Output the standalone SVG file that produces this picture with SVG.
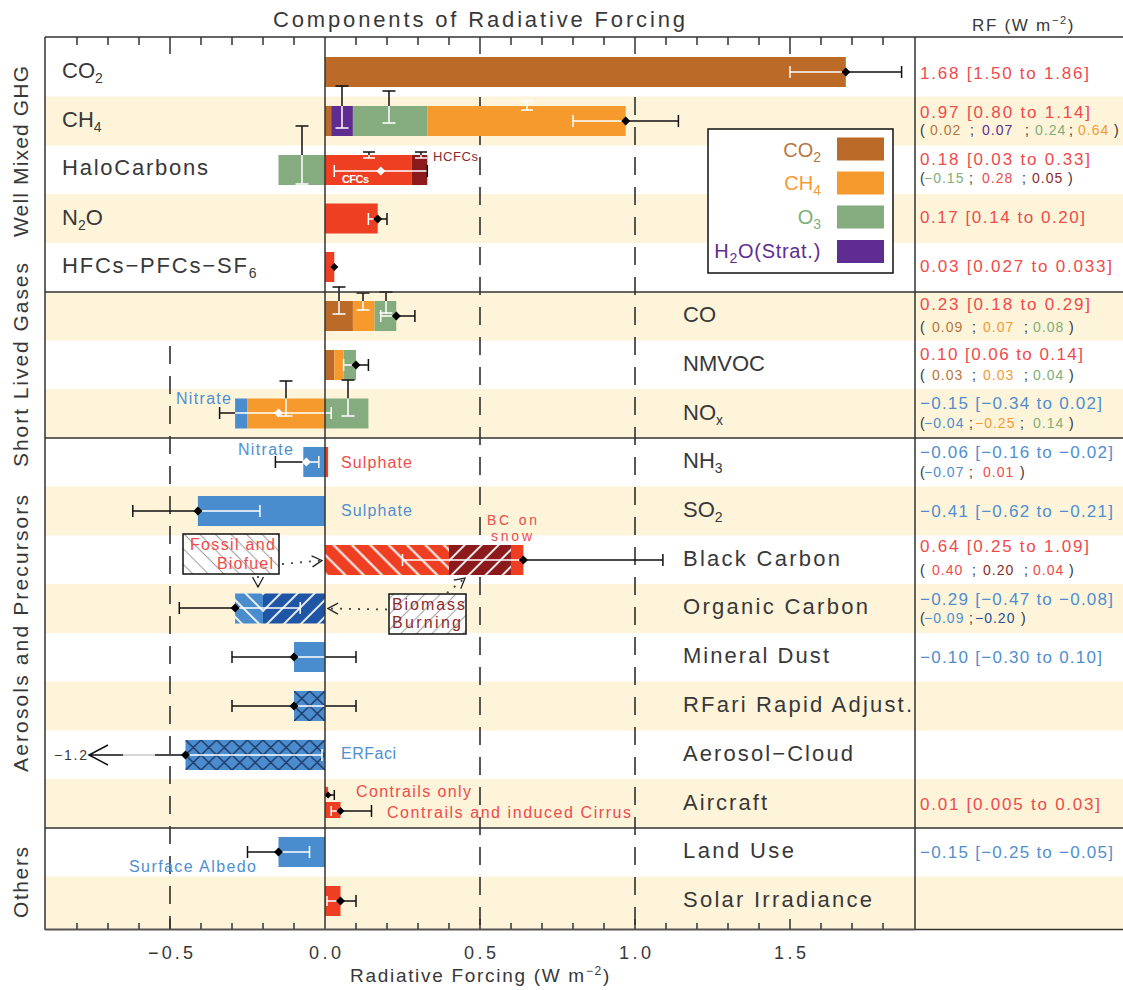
<svg xmlns="http://www.w3.org/2000/svg" width="1123" height="990" viewBox="0 0 1123 990">
<style>
text{font-family:"Liberation Sans",Arial,sans-serif;fill:#383838}
.lab{font-size:22px}
.sec{font-size:21px}
.ttl{font-size:22px}
.ax{font-size:18px}
.val{font-size:17px}
.sv{font-size:14px;letter-spacing:1px}
.sm{font-size:16px}
.rd{fill:#ef4b4b}.bl{fill:#4f8fd0}.br{fill:#b7773e}.or{fill:#f59a33}.gr{fill:#7fae7a}.pu{fill:#5f2d91}.dr{fill:#8c2a2a}.db{fill:#2a4f8f}.dk{fill:#333}
.k{stroke:#111;stroke-width:1.5;fill:none}
.w{stroke:#fff;stroke-width:1.5;fill:none}
.stripe{fill:#fdf4da}
.grid{stroke:#222;stroke-width:1.5;stroke-dasharray:18 12;fill:none}
.axis{stroke:#333;stroke-width:1.5;fill:none}
.dot{stroke:#444;stroke-width:1.8;stroke-dasharray:2 7;fill:none}
.c-br{fill:#bb6a27}.c-or{fill:#f79a2e}.c-gr{fill:#84ac7f}.c-pu{fill:#5f2d91}.c-rd{fill:#ee3f23}.c-dr{fill:#8c191c}.c-bl{fill:#4a8dce}
</style>
<defs>
<pattern id="hBCr" patternUnits="userSpaceOnUse" width="13" height="13" patternTransform="rotate(-45)"><rect width="13" height="13" fill="#ee3f23"/><line x1="6.5" y1="0" x2="6.5" y2="13" stroke="#fff" stroke-width="2"/></pattern>
<pattern id="hBCd" patternUnits="userSpaceOnUse" width="12" height="12" patternTransform="rotate(45)"><rect width="12" height="12" fill="#8c191c"/><line x1="6" y1="0" x2="6" y2="12" stroke="#fff" stroke-width="1.8"/></pattern>
<pattern id="hOCl" patternUnits="userSpaceOnUse" width="12" height="12" patternTransform="rotate(-45)"><rect width="12" height="12" fill="#4a8dce"/><line x1="6" y1="0" x2="6" y2="12" stroke="#fff" stroke-width="1.8"/></pattern>
<pattern id="hOCd" patternUnits="userSpaceOnUse" width="12" height="12" patternTransform="rotate(45)"><rect width="12" height="12" fill="#1f55a5"/><line x1="6" y1="0" x2="6" y2="12" stroke="#fff" stroke-width="1.8"/></pattern>
<pattern id="hBoxA" patternUnits="userSpaceOnUse" width="11" height="11" patternTransform="rotate(-45)"><rect width="11" height="11" fill="#fff"/><line x1="5.5" y1="0" x2="5.5" y2="11" stroke="#aaa" stroke-width="1.2"/></pattern>
<pattern id="hBoxB" patternUnits="userSpaceOnUse" width="11" height="11" patternTransform="rotate(45)"><rect width="11" height="11" fill="#fff"/><line x1="5.5" y1="0" x2="5.5" y2="11" stroke="#aaa" stroke-width="1.2"/></pattern>
<pattern id="xh13" patternUnits="userSpaceOnUse" x="325" y="691" width="15.5" height="15"><rect width="15.5" height="15" fill="#4a8dce"/><path d="M0,0L15.5,15M15.5,0L0,15" stroke="#1f3a68" stroke-width="1.5"/></pattern>
<pattern id="xh14" patternUnits="userSpaceOnUse" x="325" y="740" width="15.5" height="15"><rect width="15.5" height="15" fill="#4a8dce"/><path d="M0,0L15.5,15M15.5,0L0,15" stroke="#1f3a68" stroke-width="1.5"/></pattern>
<marker id="chev" viewBox="-11 -7 12 14" refX="0" refY="0" markerWidth="12" markerHeight="14" orient="auto" markerUnits="userSpaceOnUse"><path d="M-10,-5.5L0,0L-10,5.5" fill="none" stroke="#222" stroke-width="1.3"/></marker>
</defs>
<rect width="1123" height="990" fill="#fff"/>

<g id="stripes">
<rect class="stripe" x="45" y="96.5" width="1078" height="49"/>
<rect class="stripe" x="45" y="194" width="1078" height="49"/>
<rect class="stripe" x="45" y="292" width="1078" height="48.5"/>
<rect class="stripe" x="45" y="389" width="1078" height="49"/>
<rect class="stripe" x="45" y="486.5" width="1078" height="49"/>
<rect class="stripe" x="45" y="584" width="1078" height="49"/>
<rect class="stripe" x="45" y="681.5" width="1078" height="49"/>
<rect class="stripe" x="45" y="779" width="1078" height="49"/>
<rect class="stripe" x="45" y="876.5" width="1078" height="53"/>
</g>

<g id="gridlines">
<line class="grid" x1="170" y1="346" x2="170" y2="929"/>
<line class="grid" x1="480" y1="97" x2="480" y2="929"/>
<line class="grid" x1="635" y1="97" x2="635" y2="929"/>
</g>

<g id="title">
<text class="ttl" x="273" y="27" textLength="412" lengthAdjust="spacing">Components of Radiative Forcing</text>
<text class="val" x="972" y="31" style="letter-spacing:1.7px">RF (W m<tspan dy="-7" font-size="11">−2</tspan><tspan dy="7">)</tspan></text>
</g>

<g id="sections">
<text class="sec" transform="translate(28,237) rotate(-90)" textLength="171" lengthAdjust="spacing">Well Mixed GHG</text>
<text class="sec" transform="translate(28,467) rotate(-90)" textLength="204" lengthAdjust="spacing">Short Lived Gases</text>
<text class="sec" transform="translate(28,772) rotate(-90)" textLength="277" lengthAdjust="spacing">Aerosols and Precursors</text>
<text class="sec" transform="translate(28,918) rotate(-90)" textLength="71" lengthAdjust="spacing">Others</text>
</g>

<g id="row-co2">
<text class="lab" x="62" y="78">CO<tspan dy="5" font-size="14">2</tspan></text>
<rect class="c-br" x="325" y="57" width="520.8" height="30"/>
<path class="w" d="M790,72H845.8M790,66V78"/>
<path class="k" d="M845.8,72H901.6M901.6,66V78"/>
<polygon points="841.3,72 845.8,67.5 850.3,72 845.8,76.5"/>
<text class="val rd" x="920" y="79" textLength="169" lengthAdjust="spacing">1.68 [1.50 to 1.86]</text>
</g>

<g id="row-ch4">
<text class="lab" x="62" y="127">CH<tspan dy="5" font-size="14">4</tspan></text>
<rect class="c-br" x="325" y="106" width="6.2" height="30"/>
<rect class="c-pu" x="331.2" y="106" width="21.7" height="30"/>
<rect class="c-gr" x="352.9" y="106" width="74.4" height="30"/>
<rect class="c-or" x="427.3" y="106" width="198.4" height="30"/>
<path class="k" d="M335.5,86H348.5M342,86V106M382.5,91H395.5M389,91V106"/>
<path class="w" d="M342,106V128M335.5,128H348.5M389,106V123M382.5,123H395.5M521,101H533M527,101V110M521,110H533"/>
<path class="w" d="M573,121H625.7M573,115V127"/>
<path class="k" d="M625.7,121H678.4M678.4,115V127"/>
<polygon points="621.2,121 625.7,116.5 630.2,121 625.7,125.5"/>
<text class="val rd" x="920" y="118" textLength="170" lengthAdjust="spacing">0.97 [0.80 to 1.14]</text>
<text class="sv"><tspan class="dk" x="920" y="135">(</tspan><tspan class="br" x="930" y="135">0.02</tspan><tspan class="dk" x="970" y="135">;</tspan><tspan class="pu" x="982" y="135">0.07</tspan><tspan class="dk" x="1025" y="135">;</tspan><tspan class="gr" x="1035" y="135">0.24</tspan><tspan class="dk" x="1069" y="135">;</tspan><tspan class="or" x="1078" y="135">0.64</tspan><tspan class="dk" x="1114" y="135">)</tspan></text>
</g>

<g id="row-halocarbons">
<text class="lab" x="62" y="175" textLength="146" lengthAdjust="spacing">HaloCarbons</text>
<rect class="c-gr" x="278.5" y="155" width="46.5" height="30"/>
<rect class="c-rd" x="325" y="155" width="86.8" height="30"/>
<rect class="c-dr" x="411.8" y="155" width="15.5" height="30"/>
<path class="k" d="M295.5,126H308.5M302,126V155M363,152H375M369,152V155M415,152H427M421,152V155"/>
<path class="w" d="M302,155V184M295.5,184H308.5M369,155V158M363,158H375M421,155V158M415,158H427"/>
<path class="w" d="M334.3,171H427.3M334.3,165V177"/>
<path class="k" d="M427.3,165V177"/>
<polygon points="376.3,171 380.8,166.5 385.3,171 380.8,175.5" fill="#fff"/>
<text x="433" y="161" font-size="13" class="dr" textLength="45" lengthAdjust="spacing">HCFCs</text>
<text x="342" y="183" font-size="11" font-weight="bold" style="fill:#fff" textLength="27" lengthAdjust="spacing">CFCs</text>
<text class="val rd" x="920" y="165" textLength="170" lengthAdjust="spacing">0.18 [0.03 to 0.33]</text>
<text class="sv"><tspan class="dk" x="920" y="183">(</tspan><tspan class="gr" x="924" y="183">−0.15</tspan><tspan class="dk" x="969" y="183">;</tspan><tspan class="rd" x="982" y="183">0.28</tspan><tspan class="dk" x="1022" y="183">;</tspan><tspan class="dr" x="1032" y="183">0.05</tspan><tspan class="dk" x="1068" y="183">)</tspan></text>
</g>

<g id="row-n2o">
<text class="lab" x="62" y="225">N<tspan dy="5" font-size="14">2</tspan><tspan dy="-5">O</tspan></text>
<rect class="c-rd" x="325" y="203.5" width="52.7" height="30"/>
<path class="w" d="M368.4,219H377.7M368.4,213V225"/>
<path class="k" d="M377.7,219H387M387,213V225"/>
<polygon points="373.2,219 377.7,214.5 382.2,219 377.7,223.5"/>
<text class="val rd" x="920" y="223" textLength="165" lengthAdjust="spacing">0.17 [0.14 to 0.20]</text>
</g>

<g id="row-hfcs">
<text class="lab" x="62" y="273" style="letter-spacing:1.8px">HFCs−PFCs−SF<tspan dy="5" font-size="14">6</tspan></text>
<rect class="c-rd" x="325" y="252" width="9.3" height="30"/>
<path class="k" d="M331.5,267H337.5"/>
<polygon points="330.3,267 334.3,263 338.3,267 334.3,271"/>
<text class="val rd" x="920" y="272" textLength="192" lengthAdjust="spacing">0.03 [0.027 to 0.033]</text>
</g>

<g id="row-co">
<text class="lab" x="683" y="322">CO</text>
<rect class="c-br" x="325" y="301" width="27.9" height="30"/>
<rect class="c-or" x="352.9" y="301" width="21.7" height="30"/>
<rect class="c-gr" x="374.6" y="301" width="21.7" height="30"/>
<path class="k" d="M332.5,287H345.5M339,287V301M356.5,293H369.5M363,293V301M379.5,292H392.5M386,292V301"/>
<path class="w" d="M339,301V314M332.5,314H345.5M363,301V310M356.5,310H369.5M386,301V313M379.5,313H392.5"/>
<path class="w" d="M380.8,316H396.3M380.8,310V322"/>
<path class="k" d="M396.3,316H414.9M414.9,310V322"/>
<polygon points="391.8,316 396.3,311.5 400.8,316 396.3,320.5"/>
<text class="val rd" x="920" y="310" textLength="170" lengthAdjust="spacing">0.23 [0.18 to 0.29]</text>
<text class="sv"><tspan class="dk" x="920" y="332">(</tspan><tspan class="br" x="932" y="332">0.09</tspan><tspan class="dk" x="972" y="332">;</tspan><tspan class="or" x="983" y="332">0.07</tspan><tspan class="dk" x="1024" y="332">;</tspan><tspan class="gr" x="1033" y="332">0.08</tspan><tspan class="dk" x="1069" y="332">)</tspan></text>
</g>

<g id="row-nmvoc">
<text class="lab" x="683" y="371">NMVOC</text>
<rect class="c-br" x="325" y="350" width="9.3" height="30"/>
<rect class="c-or" x="334.3" y="350" width="9.3" height="30"/>
<rect class="c-gr" x="343.6" y="350" width="12.4" height="30"/>
<path class="w" d="M343.6,365H356M343.6,359V371"/>
<path class="k" d="M356,365H368.4M368.4,359V371"/>
<polygon points="351.5,365 356,360.5 360.5,365 356,369.5"/>
<text class="val rd" x="920" y="360" textLength="163" lengthAdjust="spacing">0.10 [0.06 to 0.14]</text>
<text class="sv"><tspan class="dk" x="920" y="380">(</tspan><tspan class="br" x="932" y="380">0.03</tspan><tspan class="dk" x="972" y="380">;</tspan><tspan class="or" x="983" y="380">0.03</tspan><tspan class="dk" x="1024" y="380">;</tspan><tspan class="gr" x="1033" y="380">0.04</tspan><tspan class="dk" x="1069" y="380">)</tspan></text>
</g>

<g id="row-nox">
<text class="lab" x="683" y="420">NO<tspan dy="5" font-size="14">x</tspan></text>
<rect class="c-bl" x="235.1" y="398.5" width="12.4" height="30"/>
<rect class="c-or" x="247.5" y="398.5" width="77.5" height="30"/>
<rect class="c-gr" x="325" y="398.5" width="43.4" height="30"/>
<path class="k" d="M279.5,381H292.5M286,381V398.5M341.5,380H354.5M348,380V398.5"/>
<path class="w" d="M286,398.5V416M279.5,416H292.5M348,398.5V416M341.5,416H354.5"/>
<path class="k" d="M219.6,407V419M219.6,413H235.1"/>
<path class="w" d="M235.1,413H331.2M331.2,407V419"/>
<polygon points="274,413 278.5,408.5 283,413 278.5,417.5" fill="#fff"/>
<text class="sm bl" x="176" y="404" textLength="55" lengthAdjust="spacing">Nitrate</text>
<text class="val bl" x="920" y="409" textLength="182" lengthAdjust="spacing">−0.15 [−0.34 to 0.02]</text>
<text class="sv"><tspan class="dk" x="920" y="428">(</tspan><tspan class="bl" x="924" y="428">−0.04</tspan><tspan class="dk" x="969" y="428">;</tspan><tspan class="or" x="975" y="428">−0.25</tspan><tspan class="dk" x="1020" y="428">;</tspan><tspan class="gr" x="1033" y="428">0.14</tspan><tspan class="dk" x="1069" y="428">)</tspan></text>
</g>

<g id="row-nh3">
<text class="lab" x="683" y="468">NH<tspan dy="5" font-size="14">3</tspan></text>
<rect class="c-bl" x="303.3" y="447" width="21.7" height="30"/>
<rect class="c-rd" x="325" y="447" width="3.1" height="30"/>
<path class="k" d="M275.4,456V468M275.4,462H303.3"/>
<path class="w" d="M303.3,462H318.8M318.8,456V468"/>
<polygon points="301.9,462 306.4,457.5 310.9,462 306.4,466.5" fill="#fff"/>
<text class="sm bl" x="238" y="455" textLength="55" lengthAdjust="spacing">Nitrate</text>
<text class="sm rd" x="341" y="468" textLength="71" lengthAdjust="spacing">Sulphate</text>
<text class="val bl" x="920" y="458" textLength="193" lengthAdjust="spacing">−0.06 [−0.16 to −0.02]</text>
<text class="sv"><tspan class="dk" x="920" y="477">(</tspan><tspan class="bl" x="924" y="477">−0.07</tspan><tspan class="dk" x="969" y="477">;</tspan><tspan class="rd" x="983" y="477">0.01</tspan><tspan class="dk" x="1020" y="477">)</tspan></text>
</g>

<g id="row-so2">
<text class="lab" x="683" y="517">SO<tspan dy="5" font-size="14">2</tspan></text>
<rect class="c-bl" x="197.9" y="496" width="127.1" height="30"/>
<path class="k" d="M132.8,505V517M132.8,511H197.9"/>
<path class="w" d="M197.9,511H259.9M259.9,505V517"/>
<polygon points="193.4,511 197.9,506.5 202.4,511 197.9,515.5"/>
<text class="sm bl" x="341" y="516" textLength="71" lengthAdjust="spacing">Sulphate</text>
<text class="val bl" x="920" y="517" textLength="193" lengthAdjust="spacing">−0.41 [−0.62 to −0.21]</text>
</g>

<g id="row-bc">
<text class="lab" x="683" y="566" textLength="157" lengthAdjust="spacing">Black Carbon</text>
<rect x="325" y="545" width="124" height="30" fill="url(#hBCr)"/>
<rect x="449" y="545" width="62" height="30" fill="url(#hBCd)"/>
<rect class="c-rd" x="511" y="545" width="12.4" height="30"/>
<path class="w" d="M402.5,554V566M402.5,560H523.4"/>
<path class="k" d="M523.4,560H662.9M662.9,554V566"/>
<polygon points="518.9,560 523.4,555.5 527.9,560 523.4,564.5"/>
<text x="487" y="525" font-size="14" class="rd" textLength="50" lengthAdjust="spacing">BC on</text>
<text x="491" y="541" font-size="14" class="rd" textLength="41" lengthAdjust="spacing">snow</text>
<text class="val rd" x="920" y="552" textLength="169" lengthAdjust="spacing">0.64 [0.25 to 1.09]</text>
<text class="sv"><tspan class="dk" x="920" y="575">(</tspan><tspan class="rd" x="932" y="575">0.40</tspan><tspan class="dk" x="972" y="575">;</tspan><tspan class="dr" x="983" y="575">0.20</tspan><tspan class="dk" x="1024" y="575">;</tspan><tspan class="rd" x="1033" y="575">0.04</tspan><tspan class="dk" x="1069" y="575">)</tspan></text>
</g>

<g id="box-fossil">
<rect x="183" y="534" width="96" height="40" fill="url(#hBoxA)" stroke="#111" stroke-width="1.5"/>
<text class="sm rd" x="190" y="550" textLength="85" lengthAdjust="spacing">Fossil and</text>
<text class="sm rd" x="217" y="569" textLength="56" lengthAdjust="spacing">Biofuel</text>
</g>

<g id="row-oc">
<text class="lab" x="683" y="614" textLength="185" lengthAdjust="spacing">Organic Carbon</text>
<rect x="235.1" y="593.5" width="27.9" height="30" fill="url(#hOCl)"/>
<rect x="263" y="593.5" width="62" height="30" fill="url(#hOCd)"/>
<path class="k" d="M179.3,602V614M179.3,608H235.1"/>
<path class="w" d="M235.1,608H300.2M300.2,602V614"/>
<polygon points="230.6,608 235.1,603.5 239.6,608 235.1,612.5"/>
<text class="val bl" x="920" y="605" textLength="193" lengthAdjust="spacing">−0.29 [−0.47 to −0.08]</text>
<text class="sv"><tspan class="dk" x="920" y="623">(</tspan><tspan class="bl" x="924" y="623">−0.09</tspan><tspan class="dk" x="969" y="623">;</tspan><tspan class="db" x="975" y="623">−0.20</tspan><tspan class="dk" x="1021" y="623">)</tspan></text>
</g>

<g id="box-biomass">
<rect x="389" y="594" width="77" height="40" fill="url(#hBoxB)" stroke="#111" stroke-width="1.5"/>
<text class="sm dr" x="392" y="610" textLength="73" lengthAdjust="spacing">Biomass</text>
<text class="sm dr" x="392" y="628" textLength="69" lengthAdjust="spacing">Burning</text>
</g>

<g id="row-dust">
<text class="lab" x="683" y="663" textLength="146" lengthAdjust="spacing">Mineral Dust</text>
<rect class="c-bl" x="294" y="642" width="31" height="30"/>
<path class="k" d="M232,651V663M232,657H294M325,657H356M356,651V663"/>
<path class="w" d="M294,657H325"/>
<polygon points="289.5,657 294,652.5 298.5,657 294,661.5"/>
<text class="val bl" x="920" y="663" textLength="182" lengthAdjust="spacing">−0.10 [−0.30 to 0.10]</text>
</g>

<g id="row-rfari">
<text class="lab" x="683" y="712" textLength="229" lengthAdjust="spacing">RFari Rapid Adjust.</text>
<rect x="294" y="691" width="31" height="30" fill="url(#xh13)"/>
<path class="k" d="M232,700V712M232,706H294M325,706H356M356,700V712"/>
<path class="w" d="M294,706H325"/>
<polygon points="289.5,706 294,701.5 298.5,706 294,710.5"/>
</g>

<g id="row-aci">
<text class="lab" x="683" y="761" textLength="170" lengthAdjust="spacing">Aerosol−Cloud</text>
<rect x="185.5" y="740" width="139.5" height="30" fill="url(#xh14)"/>
<path class="w" d="M185.5,755H322M322,749V761"/>
<path class="k" d="M155,755H185.5M89,755H123M108,745L89,755L108,765"/>
<path d="M123,755H155" stroke="#c8c8c8" stroke-width="1.5"/>
<polygon points="181,755 185.5,750.5 190,755 185.5,759.5"/>
<text x="54" y="760" font-size="14" textLength="33" lengthAdjust="spacing">−1.2</text>
<text class="sm bl" x="341" y="759" textLength="55" lengthAdjust="spacing">ERFaci</text>
</g>

<g id="row-aircraft">
<text class="lab" x="683" y="810" textLength="84" lengthAdjust="spacing">Aircraft</text>
<rect class="c-rd" x="325" y="787" width="3.1" height="10"/>
<rect class="c-rd" x="325" y="802" width="15.5" height="16"/>
<path class="k" d="M328.1,795H334.3M334.3,790V800"/>
<polygon points="324.6,795 328.1,791.5 331.6,795 328.1,798.5"/>
<path class="w" d="M331.2,811H340.5M331.2,806V816"/>
<path class="k" d="M340.5,811H371.5M371.5,805V817"/>
<polygon points="336.5,811 340.5,807 344.5,811 340.5,815"/>
<text class="sm rd" x="356" y="797" textLength="115" lengthAdjust="spacing">Contrails only</text>
<text class="sm rd" x="387" y="818" textLength="244" lengthAdjust="spacing">Contrails and induced Cirrus</text>
<text class="val rd" x="920" y="810" textLength="180" lengthAdjust="spacing">0.01 [0.005 to 0.03]</text>
</g>

<g id="row-landuse">
<text class="lab" x="683" y="858" textLength="111" lengthAdjust="spacing">Land Use</text>
<rect class="c-bl" x="278.5" y="837" width="46.5" height="30"/>
<path class="k" d="M247.5,846V858M247.5,852H278.5"/>
<path class="w" d="M278.5,852H309.5M309.5,846V858"/>
<polygon points="274,852 278.5,847.5 283,852 278.5,856.5"/>
<text class="sm bl" x="129" y="872" textLength="127" lengthAdjust="spacing">Surface Albedo</text>
<text class="val bl" x="920" y="858" textLength="193" lengthAdjust="spacing">−0.15 [−0.25 to −0.05]</text>
</g>

<g id="row-solar">
<text class="lab" x="683" y="907" textLength="189" lengthAdjust="spacing">Solar Irradiance</text>
<rect class="c-rd" x="325" y="886" width="15.5" height="30"/>
<path class="w" d="M327,901H340.5M327,896V906"/>
<path class="k" d="M340.5,901H356M356,895V907"/>
<polygon points="336,901 340.5,896.5 345,901 340.5,905.5"/>
</g>

<g id="connectors">
<path class="dot" d="M282,564L322,560.5" marker-end="url(#chev)"/>
<path class="dot" d="M258,576L258,587" marker-end="url(#chev)"/>
<path class="dot" d="M387,609.5L328,608.5" marker-end="url(#chev)"/>
<path class="dot" d="M447,593L465,578" marker-end="url(#chev)"/>
</g>

<g id="legend">
<rect x="708" y="129" width="185" height="144" fill="#fff" stroke="#111" stroke-width="1.5"/>
<rect class="c-br" x="837" y="137.5" width="47" height="23"/>
<rect class="c-or" x="837" y="171.5" width="47" height="23"/>
<rect class="c-gr" x="837" y="205.5" width="47" height="23"/>
<rect class="c-pu" x="837" y="240" width="47" height="23"/>
<text x="821" y="157" font-size="20" text-anchor="end" class="br">CO<tspan dy="5" font-size="14">2</tspan></text>
<text x="821" y="190" font-size="20" text-anchor="end" class="or">CH<tspan dy="5" font-size="14">4</tspan></text>
<text x="821" y="224" font-size="20" text-anchor="end" class="gr">O<tspan dy="5" font-size="14">3</tspan></text>
<text x="821" y="258" font-size="20" text-anchor="end" class="pu" style="letter-spacing:0.7px">H<tspan dy="5" font-size="14">2</tspan><tspan dy="-5">O(Strat.)</tspan></text>
</g>

<g id="axes">
<line class="axis" x1="325" y1="37" x2="325" y2="929" stroke="#111"/>
<path class="axis" d="M45,37H1123M45,37V930M915,37V930M45,292H1123M45,438H1123M45,828H1123M915,929.5H1123"/>
<path d="M45,929.5H915" stroke="#555" stroke-width="2" fill="none"/>
<path class="axis" d="M77,37V45M108,37V45M139,37V45M201,37V45M232,37V45M263,37V45M294,37V45M356,37V45M387,37V45M418,37V45M449,37V45M511,37V45M542,37V45M573,37V45M604,37V45M666,37V45M697,37V45M728,37V45M759,37V45M821,37V45M852,37V45M883,37V45M170,37V54M480,37V54M635,37V54M790,37V54"/>
<path class="axis" d="M77,929V923M108,929V923M139,929V923M201,929V923M232,929V923M263,929V923M294,929V923M356,929V923M387,929V923M418,929V923M449,929V923M511,929V923M542,929V923M573,929V923M604,929V923M666,929V923M697,929V923M728,929V923M759,929V923M821,929V923M852,929V923M883,929V923M170,929V919M480,929V919M635,929V919M790,929V919"/>
<text class="ax" x="148" y="959" textLength="45" lengthAdjust="spacing">−0.5</text>
<text class="ax" x="309" y="959" textLength="32" lengthAdjust="spacing">0.0</text>
<text class="ax" x="464" y="959" textLength="32" lengthAdjust="spacing">0.5</text>
<text class="ax" x="619" y="959" textLength="32" lengthAdjust="spacing">1.0</text>
<text class="ax" x="774" y="959" textLength="32" lengthAdjust="spacing">1.5</text>
<text x="350" y="982" font-size="19" style="letter-spacing:1.7px">Radiative Forcing (W m<tspan dy="-7" font-size="12">−2</tspan><tspan dy="7">)</tspan></text>
</g>
</svg>
